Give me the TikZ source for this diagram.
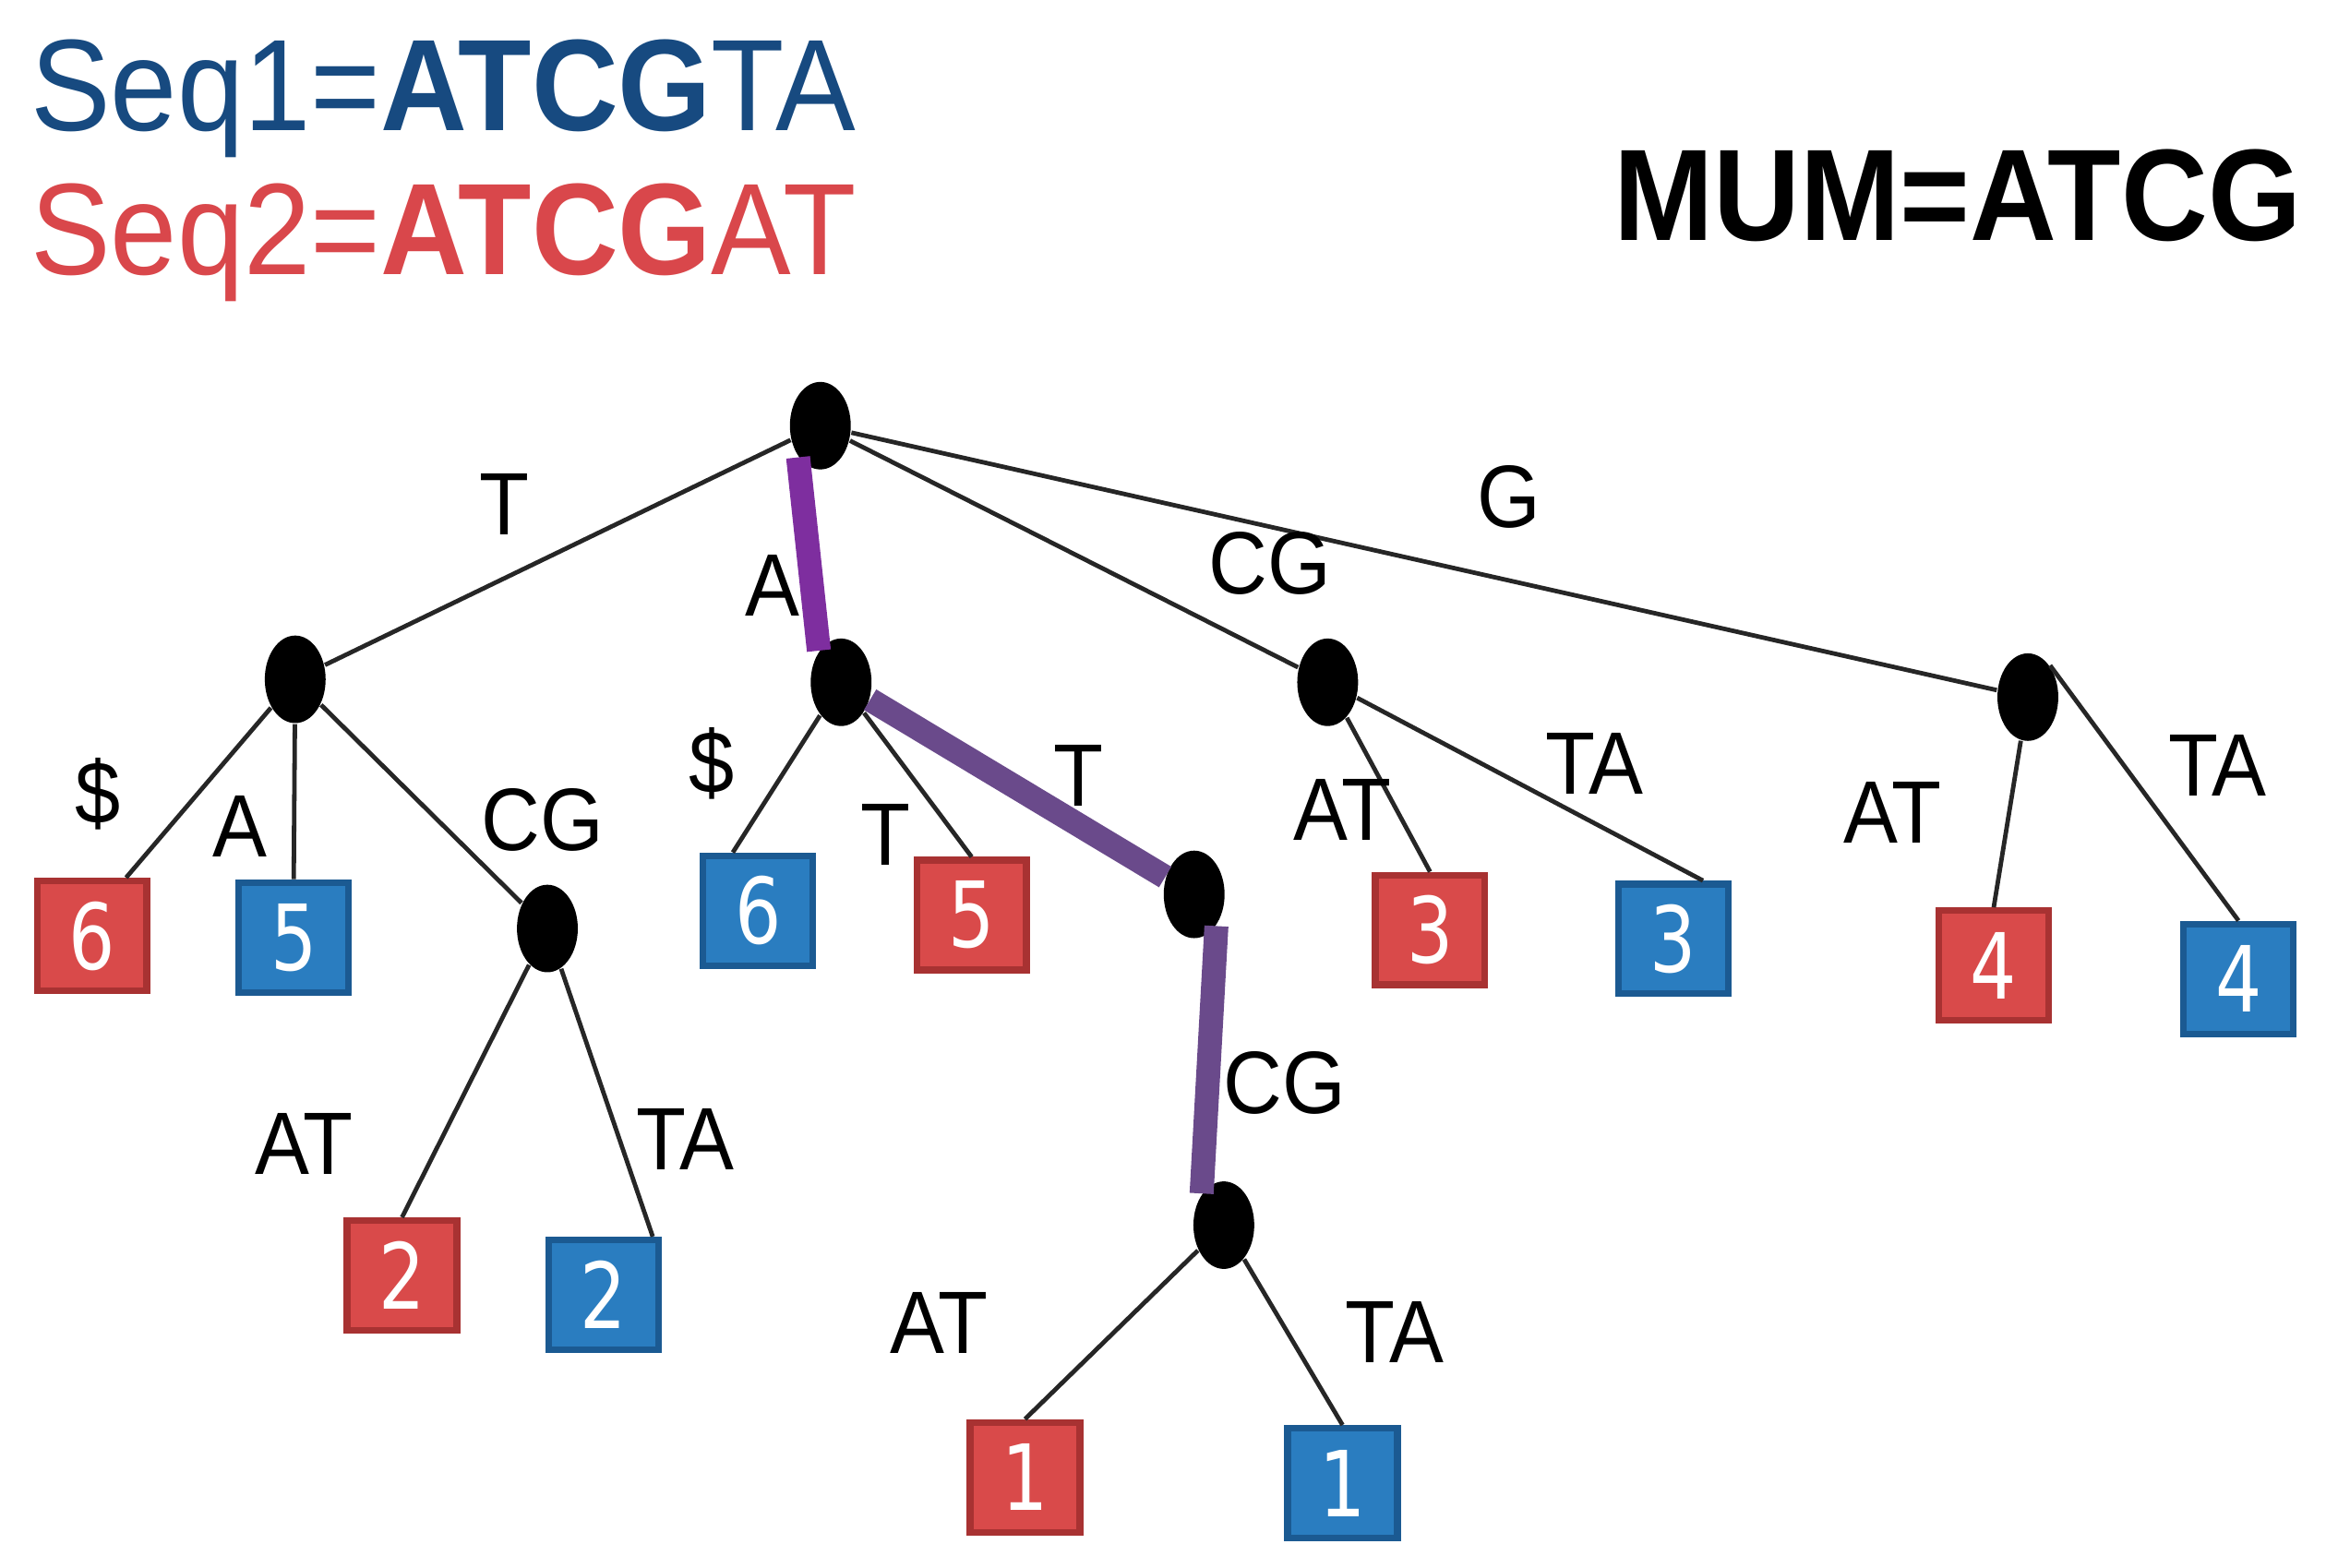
\documentclass[tikz,border=0pt]{standalone}
\usepackage{fontspec}
\setmainfont{Liberation Sans}[FakeStretch=0.92]
\newfontfamily\digitfont{DejaVu Sans}[FakeStretch=0.8]
\usetikzlibrary{shapes.geometric}
\definecolor{SeqBlue}{HTML}{174A80}
\definecolor{SeqRed}{HTML}{D9474B}
\definecolor{LeafRed}{HTML}{D94A4A}
\definecolor{LeafRedEdge}{HTML}{A83232}
\definecolor{LeafBlue}{HTML}{2A7DC0}
\definecolor{LeafBlueEdge}{HTML}{1B5A92}
\definecolor{PathPurple}{HTML}{7E2E9F}
\definecolor{PathMauve}{HTML}{6A4A8B}

\begin{document}
\begin{tikzpicture}[every node/.style={font=\fontsize{17}{20}\selectfont,inner sep=0pt},
  inner/.style={ellipse,fill=black,minimum width=.41cm,minimum height=.59cm},
  redleaf/.style={draw=LeafRedEdge,fill=LeafRed,line width=1.3pt,minimum size=.74cm,text=white,font=\digitfont\fontsize{17.5}{17.5}\selectfont},
  blueleaf/.style={draw=LeafBlueEdge,fill=LeafBlue,line width=1.3pt,minimum size=.74cm,text=white,font=\digitfont\fontsize{17.5}{17.5}\selectfont},
  edge/.style={line width=.85pt,draw=black!85},
  mumpath/.style={line width=4.6pt}]
  \useasboundingbox (0,0) rectangle (15.68,-10.57);
  % headings
  \node[anchor=base west,text=SeqBlue,font=\fontsize{25}{30}\selectfont] (seq1) at (0.20,-0.88) {Seq1=\textbf{ATCG}TA};
  \node[anchor=base west,text=SeqRed,font=\fontsize{25}{30}\selectfont] (seq2) at (0.20,-1.85) {Seq2=\textbf{ATCG}AT};
  \node[anchor=base east,font=\bfseries\fontsize{25}{30}\selectfont] (mum) at (15.52,-1.62) {MUM=ATCG};
  % inner nodes
  \node[inner] (root) at (5.53,-2.87) {};
  \node[inner] (nT) at (1.99,-4.58) {};
  \node[inner] (nA) at (5.67,-4.60) {};
  \node[inner] (nCG) at (8.95,-4.60) {};
  \node[inner] (nG) at (13.67,-4.70) {};
  \node[inner] (nTCG) at (3.69,-6.26) {};
  \node[inner] (nAT) at (8.05,-6.03) {};
  \node[inner] (nATCG) at (8.25,-8.26) {};
  % leaves
  \node[redleaf] (r6) at (0.62,-6.31) {6};
  \node[blueleaf] (b5) at (1.98,-6.32) {5};
  \node[redleaf] (r2) at (2.71,-8.60) {2};
  \node[blueleaf] (b2) at (4.07,-8.73) {2};
  \node[blueleaf] (b6) at (5.11,-6.14) {6};
  \node[redleaf] (r5) at (6.55,-6.17) {5};
  \node[redleaf] (r3) at (9.64,-6.27) {3};
  \node[blueleaf] (b3) at (11.28,-6.33) {3};
  \node[redleaf] (r4) at (13.44,-6.51) {4};
  \node[blueleaf] (b4) at (15.09,-6.60) {4};
  \node[redleaf] (r1) at (6.91,-9.96) {1};
  \node[blueleaf] (b1) at (9.05,-10.00) {1};
  % edges
  \draw[edge] (root) -- (nT);
  \draw[edge] (root) -- (nCG);
  \draw[edge] (root) -- (nG);
  \draw[edge] (nT) -- ([xshift=2.3mm]r6.north);
  \draw[edge] (nT) -- (b5.north);
  \draw[edge] (nT) -- (nTCG);
  \draw[edge] (nTCG) -- (r2.north);
  \draw[edge] (nTCG) -- ([xshift=3.3mm]b2.north);
  \draw[edge] (nA) -- ([xshift=-1.7mm]b6.north);
  \draw[edge] (nA) -- (r5.north);
  \draw[edge] (nCG) -- (r3.north);
  \draw[edge] (nCG) -- ([xshift=2mm]b3.north);
  \draw[edge] (nG) -- (r4.north);
  \draw[edge] (nG.north east) -- (b4.north);
  \draw[edge] (nATCG) -- (r1.north);
  \draw[edge] (nATCG) -- (b1.north);
  \draw[mumpath,PathPurple] (root.south west) -- (nA.north west);
  \draw[mumpath,PathMauve] (nA) -- (nAT);
  \draw[mumpath,PathMauve] (nAT.south east) -- (nATCG.north west);
  % edge labels
  \node (lT) at (3.40,-3.40) {T};
  \node (lA) at (5.21,-3.95) {A};
  \node (lCG) at (8.56,-3.80) {CG};
  \node (lG) at (10.17,-3.35) {G};
  \node (lTd) at (0.66,-5.35) {\$};
  \node (lTA) at (1.62,-5.57) {A};
  \node (lTCG) at (3.66,-5.53) {CG};
  \node (lTCGat) at (2.05,-7.71) {AT};
  \node (lTCGta) at (4.62,-7.68) {TA};
  \node (lAd) at (4.80,-5.15) {\$};
  \node (lAT) at (5.97,-5.63) {T};
  \node (lATt) at (7.27,-5.23) {T};
  \node (lATCG) at (8.66,-7.30) {CG};
  \node (lATCGat) at (6.33,-8.92) {AT};
  \node (lATCGta) at (9.40,-8.98) {TA};
  \node (lCGat) at (9.05,-5.46) {AT};
  \node (lCGta) at (10.75,-5.15) {TA};
  \node (lGat) at (12.76,-5.48) {AT};
  \node (lGta) at (14.95,-5.16) {TA};
\end{tikzpicture}
\end{document}
